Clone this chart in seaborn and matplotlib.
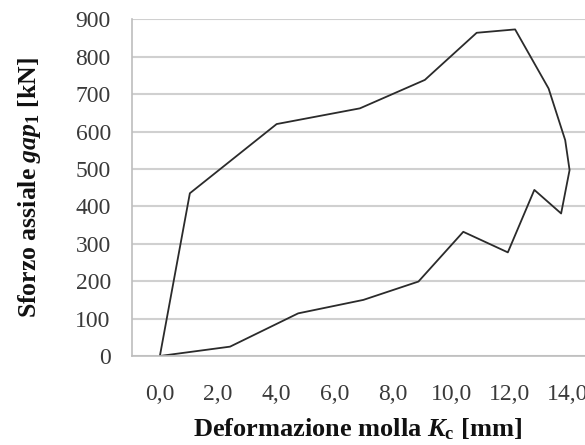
import matplotlib
matplotlib.use("Agg")
import matplotlib.pyplot as plt
import seaborn as sns
import pandas as pd
from matplotlib.ticker import FixedLocator

# Data
deformazione = [0.0, 1.03, 4.01, 6.87, 9.1, 10.88, 12.2, 13.35, 13.92, 14.07,
                13.78, 12.86, 11.95, 10.42, 8.88, 6.99, 4.75, 2.41, 0.0]
sforzo = [0, 435, 620, 662, 738, 864, 873, 715, 577, 497,
          381, 444, 277, 332, 199, 150, 114, 25, 0]
x_ticks = [0, 2, 4, 6, 8, 10, 12, 14]
x_ticklabels = ["0,0", "2,0", "4,0", "6,0", "8,0", "10,0", "12,0", "14,0"]
y_ticks = [0, 100, 200, 300, 400, 500, 600, 700, 800, 900]

df = pd.DataFrame({"x": deformazione, "y": sforzo})

sns.set_theme(style="white")
plt.rcParams["font.family"] = ["Liberation Serif", "DejaVu Serif"]
plt.rcParams["mathtext.fontset"] = "custom"
plt.rcParams["mathtext.rm"] = "Liberation Serif:bold"
plt.rcParams["mathtext.it"] = "Liberation Serif:italic:bold"
plt.rcParams["mathtext.bf"] = "Liberation Serif:bold"

fig = plt.figure(figsize=(5.85, 4.45), dpi=100)
ax = fig.add_axes([0.225, 0.2, 0.775, 0.7566])

sns.lineplot(data=df, x="x", y="y", sort=False, estimator=None, ax=ax,
             color="#2b2b2b", linewidth=1.3)

ax.set_xlim(-0.97, 14.6)
ax.set_ylim(0, 900)
ax.xaxis.set_major_locator(FixedLocator(x_ticks))
ax.set_xticklabels(x_ticklabels)
ax.yaxis.set_major_locator(FixedLocator(y_ticks))
ax.tick_params(axis="both", labelsize=17, colors="#3a3a3a", length=0)
ax.tick_params(axis="x", pad=20)
ax.tick_params(axis="y", pad=15)

ax.grid(axis="y", color="#d0d0d0", linewidth=1.5)
ax.set_axisbelow(True)
for s in ["top", "right"]:
    ax.spines[s].set_visible(False)
for s in ["left", "bottom"]:
    ax.spines[s].set_color("#bdbdbd")
    ax.spines[s].set_linewidth(1.2)

ax.set_xlabel(r"Deformazione molla $K_{\mathrm{c}}$ [mm]", fontsize=19,
              fontweight="bold", color="#111111")
ax.set_ylabel(r"Sforzo assiale $gap_{\mathrm{1}}$ [kN]", fontsize=18.5,
              fontweight="bold", color="#111111")
ax.xaxis.set_label_coords((358 - 131.7) / 453.3, -(416 - 356) / 336.7)
ax.yaxis.set_label_coords(-(131.7 - 43) / 453.3, 0.5)

fig.savefig("out.png", dpi=100)
